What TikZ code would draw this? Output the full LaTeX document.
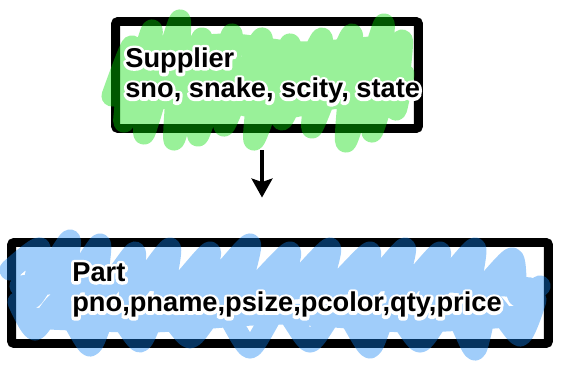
\documentclass[tikz,border=0pt]{standalone}
\usepackage{fontspec}
\setmainfont{Liberation Sans}
\usepackage{xcolor}
\usetikzlibrary{arrows.meta,positioning,calc}

\definecolor{scribgreen}{RGB}{0,220,0}
\definecolor{scribblue}{RGB}{17,130,242}

% white outline behind the labels (stroked copy of the glyphs)
\newcommand{\halo}[1]{\rlap{\special{pdf:literal direct 1 Tr 3.4 w 1 J 1 j 1 1 1 RG}#1\special{pdf:literal direct 0 Tr}}#1}

\tikzset{
  tablebox/.style={draw, line width=5.1pt, rounded corners=1.5pt, inner sep=0pt},
  boxtext/.style={font=\fontsize{15.5}{17.3}\selectfont\bfseries, align=left, inner sep=0pt},
  scrib/.style={line width=12pt, line cap=round, line join=round, opacity=0.4},
  arr/.style={line width=2pt, -{Stealth[length=10.8pt, width=11.9pt, inset=2pt]}}
}

\begin{document}
\begin{tikzpicture}[x=0.02cm, y=-0.02cm]
    \useasboundingbox (0,0) rectangle (564,374);

    % Boxes
    \node[tablebox, minimum width=6.06cm, minimum height=2.14cm] (sup) at (267,75) {};
    \node[tablebox, minimum width=10.74cm, minimum height=2.02cm] (part) at (280,293) {};

    % Green scribble over the supplier box
    \draw[scrib, scribgreen]
        plot[smooth, tension=0.4] coordinates {(112,96) (132,46) (124,122) (152,30) (144,134) (180,20)
            (174,140) (202,38) (198,136) (232,34) (224,126) (262,38) (254,140) (290,44) (282,120)
            (322,38) (312,128) (352,34) (346,142) (384,24) (372,132) (402,40) (396,110) (404,74)}
        plot[smooth, tension=0.5] coordinates {(150,50) (230,44) (300,52) (380,46)}
        plot[smooth, tension=0.5] coordinates {(122,70) (190,58) (260,74) (330,60) (400,74)}
        plot[smooth, tension=0.5] coordinates {(124,104) (200,96) (270,110) (340,98) (392,104)};

    % Blue scribble over the part box
    \draw[scrib, scribblue]
        plot[smooth, tension=0.4] coordinates {(10,270) (40,248) (32,298) (70,240) (62,300) (100,244)
            (96,302) (135,252) (130,298) (170,248) (165,300) (210,252) (200,298) (250,244) (240,300)
            (290,252) (280,298) (330,248) (320,300) (370,252) (360,298) (405,248) (395,300)
            (440,252) (430,298) (475,248) (470,300) (512,258) (518,296) (540,286)}
        plot[smooth, tension=0.4] coordinates {(536,300) (520,336) (490,302) (475,350) (450,306)
            (420,342) (390,306) (370,348) (340,306) (310,342) (280,306) (250,348) (220,306)
            (190,338) (160,306) (140,342) (110,306) (90,346) (60,302) (35,330) (18,302)}
        plot[smooth, tension=0.5] coordinates {(20,286) (140,280) (270,290) (400,280) (530,288)}
        plot[smooth, tension=0.5] coordinates {(30,318) (150,322) (280,314) (410,322) (520,316)};

    % Labels
    \node[boxtext, anchor=base west] (suptext) at (125,98) {\halo{Supplier}\\\halo{sno, snake, scity, state}};
    \node[boxtext, anchor=base west] (parttext) at (72,312) {\halo{Part}\\\halo{pno,pname,psize,pcolor,qty,price}};

    % Supplier -> Part
    \draw[arr, shorten <=0.35cm, shorten >=0.81cm] ([xshift=-0.1cm]sup.south) -- ([xshift=-0.1cm]sup.south |- part.north);
\end{tikzpicture}
\end{document}
